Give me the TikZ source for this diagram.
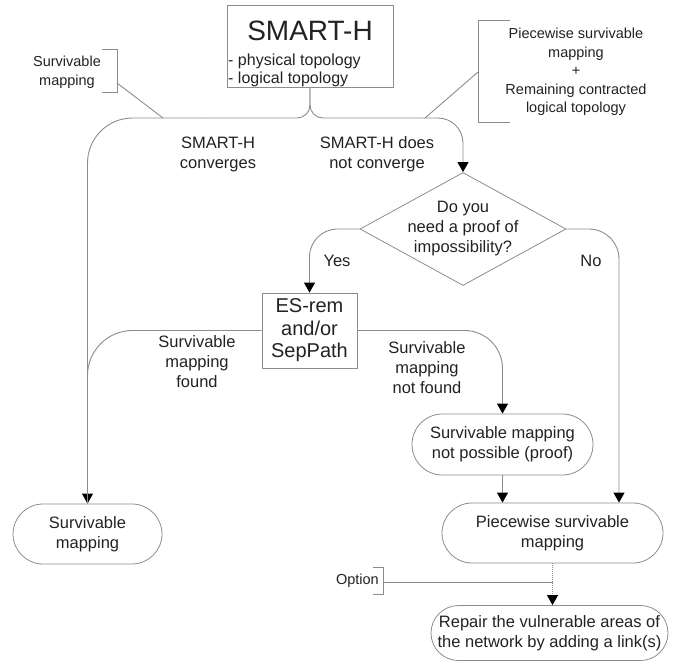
\documentclass[tikz,border=0pt]{standalone}
\usepackage{fontspec}
\setmainfont{Liberation Sans}
\usetikzlibrary{shapes.geometric,shapes.misc,arrows.meta}
\definecolor{linegray}{HTML}{8C8C8C}
\definecolor{txt}{HTML}{222222}
\begin{document}
\begin{tikzpicture}[x=1pt,y=-1pt,
  every node/.style={text=txt, font=\fontsize{16.5}{20}\selectfont, inner sep=0pt},
  boxnode/.style={draw=linegray, line width=0.8pt, rectangle},
  term/.style={draw=linegray, line width=0.8pt, rounded rectangle, align=center},
  conn/.style={draw=linegray, line width=0.9pt},
  arr/.style={conn, -{Triangle[width=11pt,length=10pt,color=black]}},
  lbl/.style={align=center},
  note/.style={align=center, font=\fontsize{14.5}{18.5}\selectfont},
]
\useasboundingbox (0,0) rectangle (685,662);

% main boxes
\node[boxnode, minimum width=166pt, minimum height=82pt] (smart) at (310,46) {};
\node[font=\fontsize{28}{30}\selectfont, anchor=base] (smartt) at (310,40) {SMART-H};
\node[anchor=base west, font=\fontsize{16}{20}\selectfont] (phys) at (228,65) {- physical topology};
\node[anchor=base west, font=\fontsize{16}{20}\selectfont] (logi) at (228,83) {- logical topology};

\node[diamond, draw=linegray, line width=0.8pt, aspect=1.82, minimum width=206pt, minimum height=113pt] (dia) at (463,229) {};
\node[lbl] (diat) at (463,229) {Do you\\need a proof of\\impossibility?};

\node[boxnode, minimum width=95pt, minimum height=75pt, align=center, font=\fontsize{20}{22.5}\selectfont] (es) at (309.5,330.5) {ES-rem\\and/or\\SepPath};

\node[term, minimum width=149pt, minimum height=60pt] (surv) at (87.5,534) {Survivable\\mapping};
\node[term, minimum width=181pt, minimum height=61pt] (np) at (502.5,444.5) {Survivable mapping\\not possible (proof)};
\node[term, minimum width=221pt, minimum height=60pt] (piece) at (552.5,533) {Piecewise survivable\\mapping};
\node[term, minimum width=237pt, minimum height=55pt] (repair) at (549.5,633) {Repair the vulnerable areas of\\the network by adding a link(s)};

% annotations
\node[note] (annL) at (67,72) {Survivable\\mapping};
\draw[conn] (102,49) -- (117,49) -- (117,92) -- (102,92);
\coordinate (annLp) at (117,83);
\node[note] (annR) at (576,72) {Piecewise survivable\\mapping\\+\\Remaining contracted\\logical topology};
\draw[conn] (510,20) -- (478,20) -- (478,122) -- (510,122);
\coordinate (annRp) at (478,72);

% connectors
\coordinate (splitL) at (200,118);
\coordinate (splitR) at (420,118);
\coordinate (hitL) at (163,118);
\coordinate (hitR) at (425,118);
\draw[conn, rounded corners=13pt] (smart.south) |- (splitL);
\draw[conn, rounded corners=13pt] (smart.south) |- (splitR);
\draw[arr, rounded corners=45pt] (splitL) -| (surv.north);
\draw[arr, rounded corners=25pt] (splitR) -| (dia.north);
\draw[conn] (annLp) -- (hitL);
\draw[conn] (annRp) -- (hitR);

\draw[arr, rounded corners=28pt] (dia.west) -| (es.north);
\draw[arr, rounded corners=30pt] (dia.east) -| ([xshift=66.5pt]piece.north);
\draw[conn, rounded corners=45pt] (es.west) -| (surv.north);
\draw[arr, rounded corners=38pt] (es.east) -| (np.north);
\draw[arr] (np.south) -- (np.south |- piece.north);
\draw[arr, dash pattern=on 1pt off 1pt] (piece.south) -- (piece.south |- repair.north);

\node[note, anchor=east] (opt) at (379,581) {Option};
\draw[conn] (373,567) -- (383,567) -- (383,594) -- (373,594);
\coordinate (optp) at (383,582);
\draw[conn] (optp) -- (optp -| piece.south);

% labels
\node[lbl] (lconv) at (218,154) {SMART-H\\converges};
\node[lbl] (lnconv) at (377,154) {SMART-H does\\not converge};
\node[lbl] (lyes) at (337,261) {Yes};
\node[lbl] (lno) at (591,261) {No};
\node[lbl] (lfound) at (197,362) {Survivable\\mapping\\found};
\node[lbl] (lnfound) at (427,368) {Survivable\\mapping\\not found};
\end{tikzpicture}
\end{document}
